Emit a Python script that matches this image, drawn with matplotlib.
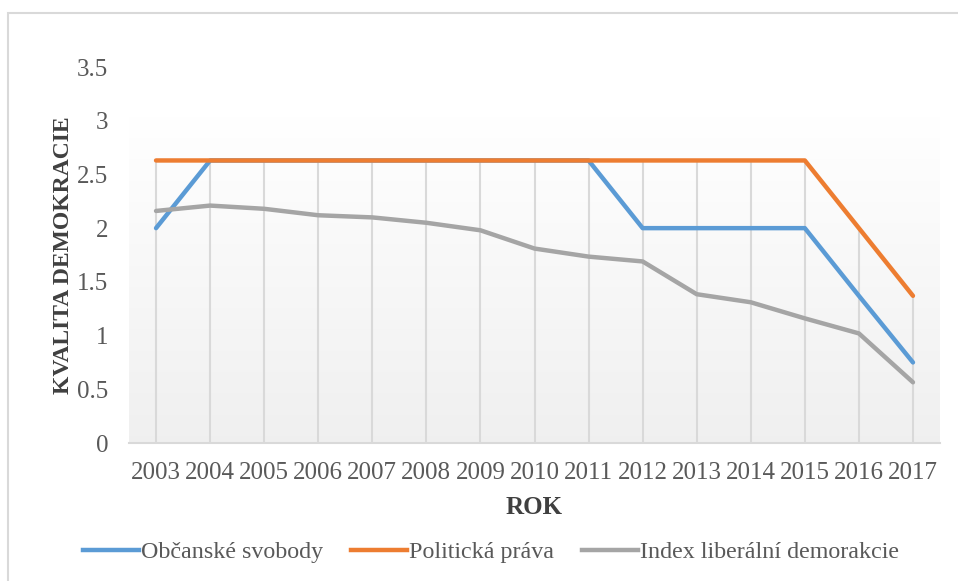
import matplotlib
matplotlib.use("Agg")
import matplotlib.pyplot as plt
import numpy as np
from matplotlib.patches import Rectangle
from matplotlib.lines import Line2D

years = ["2003", "2004", "2005", "2006", "2007", "2008", "2009", "2010",
         "2011", "2012", "2013", "2014", "2015", "2016", "2017"]
obcanske = [2.0, 2.63, 2.63, 2.63, 2.63, 2.63, 2.63, 2.63, 2.63,
            2.0, 2.0, 2.0, 2.0, 1.37, 0.75]
politicka = [2.63, 2.63, 2.63, 2.63, 2.63, 2.63, 2.63, 2.63, 2.63,
             2.63, 2.63, 2.63, 2.63, 2.0, 1.37]
index_lib = [2.16, 2.21, 2.18, 2.12, 2.10, 2.05, 1.98, 1.81, 1.735,
             1.69, 1.385, 1.31, 1.16, 1.02, 0.565]
yticks = [0, 0.5, 1, 1.5, 2, 2.5, 3, 3.5]
ytick_labels = ["0", "0.5", "1", "1.5", "2", "2.5", "3", "3.5"]

series_names = ["Občanské svobody", "Politická práva", "Index liberální demorakcie"]
colors = ["#5B9BD5", "#ED7D31", "#A5A5A5"]

plt.rcParams['font.family'] = ['Liberation Serif', 'DejaVu Serif']

fig = plt.figure(figsize=(9.58, 5.81), dpi=100)
fig.patch.set_facecolor("white")

# outer chart border (top and left visible)
fig.add_artist(Rectangle((8/958, -0.1), 1.2, 1 - 13/581 + 0.1,
                         transform=fig.transFigure, fill=False,
                         edgecolor="#D9D9D9", linewidth=1.5))

ax = fig.add_axes([129/958, 1 - 443/581, (940-129)/958, (443-67)/581])
x = np.arange(len(years))
ax.set_xlim(-0.5, len(years) - 0.5)
ax.set_ylim(0, 3.5)

# gradient plot-area background
grad = np.linspace(0, 1, 256).reshape(-1, 1)
top_c = np.array([1.0, 1.0, 1.0])
bot_c = np.array([0.94, 0.94, 0.94])
img = top_c * (1 - grad[..., None]) + bot_c * grad[..., None]
img = img.reshape(256, 1, 3)
ax.imshow(img, extent=(-0.5, len(years) - 0.5, 0, 3.04), aspect="auto",
          origin="upper", zorder=0)

# drop lines
tops = np.max(np.vstack([obcanske, politicka, index_lib]), axis=0)
ax.vlines(x, 0, tops, colors="#D9D9D9", linewidth=1.5, zorder=1)

for vals, c in zip([obcanske, politicka, index_lib], colors):
    ax.plot(x, vals, color=c, linewidth=3.2, solid_capstyle="round",
            solid_joinstyle="round", zorder=3)

for s in ["top", "right", "left"]:
    ax.spines[s].set_visible(False)
ax.spines["bottom"].set_color("#D9D9D9")
ax.spines["bottom"].set_linewidth(1.5)

ax.set_xticks(x)
ax.set_xticklabels(years)
ax.set_yticks(yticks)
ax.set_yticklabels(ytick_labels)
ax.tick_params(axis="both", length=0, labelsize=18, colors="#595959")
ax.tick_params(axis="x", pad=14)
ax.tick_params(axis="y", pad=15)

ax.set_xlabel("ROK", fontsize=18, fontweight="bold", color="#404040", labelpad=8)
ax.set_ylabel("KVALITA DEMOKRACIE", fontsize=17, fontweight="bold",
              color="#404040", labelpad=2)

handles = [Line2D([0], [0], color=c, linewidth=3.2) for c in colors]
fig.legend(handles, series_names, loc="center", bbox_to_anchor=(491/958, 1 - 552/581),
           ncol=3, frameon=False, fontsize=17.3, handlelength=2.3,
           handletextpad=0.08, columnspacing=1.2, labelcolor="#595959")

fig.savefig("out.png", dpi=100)
